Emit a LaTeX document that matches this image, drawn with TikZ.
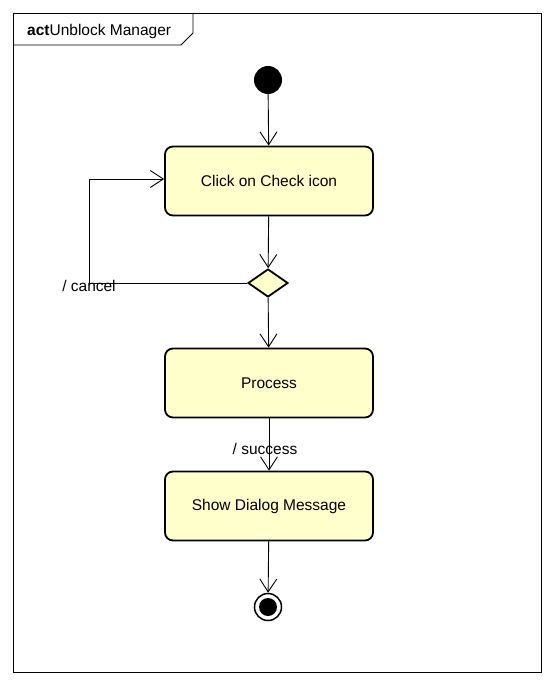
\documentclass[tikz,border=0pt]{standalone}
\usepackage{fontspec}
\setmainfont{Liberation Sans}
\usetikzlibrary{arrows.meta,shapes.geometric}
\definecolor{actfill}{HTML}{FFFFCC}
\begin{document}
\begin{tikzpicture}[x=1pt, y=-1pt,
    flow/.style={-{Straight Barb[length=13pt,width=17pt]}, line width=0.9pt},
    action/.style={draw, line width=1.8pt, rounded corners=8pt, fill=actfill,
        minimum width=208pt, minimum height=69pt, inner sep=0pt, font=\fontsize{15.5}{18}\selectfont},
    choicebox/.style={draw, diamond, line width=1.8pt, fill=actfill,
        minimum width=40pt, minimum height=28pt, inner sep=0pt},
    guard/.style={inner sep=1pt, font=\fontsize{15.5}{18}\selectfont}]
    \useasboundingbox (0,0) rectangle (554,685);
    % Frame with title tab
    \draw[line width=0.9pt] (13,13) rectangle (541,672);
    \draw[line width=0.9pt] (13,45) -- (181,45) -- (193,33) -- (193,13);
    \node[anchor=west, inner sep=0pt, font=\fontsize{15.5}{18}\selectfont] (title) at (27,31)
        {\textbf{act}Unblock Manager};

    % Nodes
    \node[circle, fill=black, minimum size=28pt, inner sep=0pt] (start) at (268,80) {};
    \node[action] (click) at (269,181) {Click on Check icon\hspace{5pt}};
    \node[choicebox] (choice) at (268,283) {};
    \node[action] (process) at (269,383) {Process\hspace{4pt}};
    \node[action] (show) at (269,506) {Show Dialog Message\hspace{7pt}};
    \node[circle, draw, line width=1.5pt, fill=white, minimum size=27pt, inner sep=0pt] (stop) at (268,607) {};
    \fill (stop.center) circle (9pt);

    % Flows
    \draw[flow] (start) -- (click);
    \draw[flow] (click) -- (choice);
    \draw[flow] (choice) -- (process);
    \draw[flow] (process) -- (show);
    \draw[flow] (show) -- (stop);
    \draw[flow] (choice.west) -- ++(-158,0) |- ([yshift=2pt]click.west);

    % Guards
    \node[guard] (cancel) at (89,286) {/ cancel};
    \node[guard] (success) at (265,449) {/ success};
\end{tikzpicture}
\end{document}
